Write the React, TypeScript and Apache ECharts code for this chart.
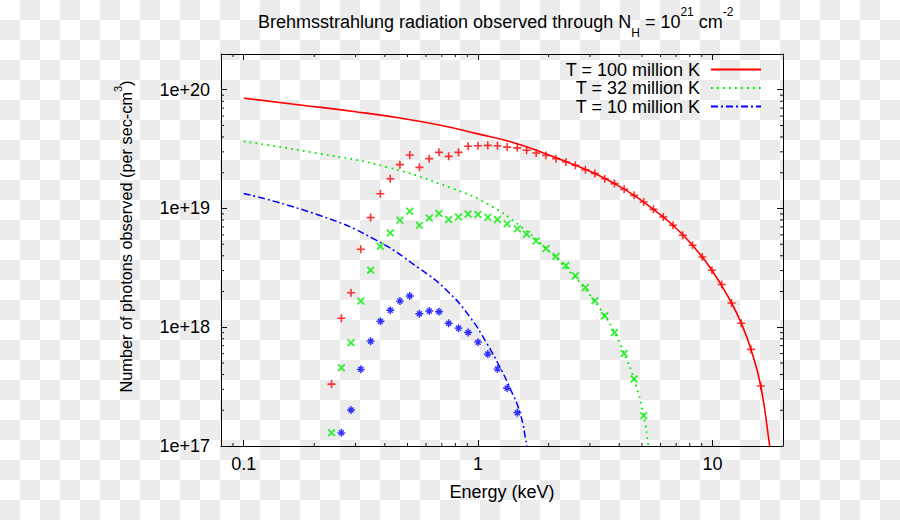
import React, { useEffect, useRef } from 'react';
import * as echarts from 'echarts';

const FONT = '"Liberation Sans", Arial, Helvetica, sans-serif';

const X_MIN = 0.08;
const X_MAX = 20;
const Y_MIN = 1e17;
const Y_MAX = 2e20;

const legendNames = ['T = 100 million K', 'T = 32 million K', 'T = 10 million K'];
const seriesColors = ['#ff0000', '#00ee00', '#0000ff'];

// Model curves (energy keV, photons)
const curve100E = [0.1, 0.174, 0.3, 0.464, 0.7, 1.0, 1.41, 1.95, 2.6, 3.15, 3.82, 4.63, 5.6, 6.79, 8.22, 9.95, 12.06, 13.27, 14.6, 16.07, 17.55, 17.9];
const curve100V = [8.49e19, 7.45e19, 6.53e19, 5.78e19, 5.0e19, 4.25e19, 3.6e19, 2.88e19, 2.31e19, 1.97e19, 1.62e19, 1.29e19, 9.84e18, 7.22e18, 4.9e18, 3.02e18, 1.6e18, 1.08e18, 6.51e17, 3.2e17, 1.0e17, 7.5e16];

const curve32E = [0.1, 0.21, 0.41, 0.78, 1.09, 1.5, 1.95, 2.37, 2.87, 3.47, 3.82, 4.2, 4.63, 5.09, 5.33, 5.4];
const curve32V = [3.67e19, 2.9e19, 2.23e19, 1.47e19, 1.1e19, 7.2e18, 4.6e18, 3.16e18, 2.09e18, 1.25e18, 9.04e17, 6.02e17, 3.66e17, 1.8e17, 1.0e17, 8e16];

const curve10E = [0.1, 0.21, 0.357, 0.565, 0.734, 0.923, 1.09, 1.24, 1.37, 1.51, 1.615, 1.65];
const curve10V = [1.34e19, 8.77e18, 5.58e18, 3.1e18, 2.05e18, 1.22e18, 7.3e17, 4.6e17, 3.05e17, 1.9e17, 1.0e17, 8e16];

// Observed channels (energy keV)
const energies = [0.237, 0.261, 0.287, 0.316, 0.348, 0.383, 0.422, 0.464, 0.511, 0.562, 0.619, 0.681, 0.749, 0.825, 0.907, 0.999, 1.10, 1.21, 1.33, 1.47, 1.61, 1.77, 1.95, 2.15, 2.37, 2.60, 2.87, 3.15, 3.47, 3.82, 4.20, 4.63, 5.09, 5.60, 6.17, 6.79, 7.47, 8.22, 9.05, 9.95, 10.95, 12.06, 13.27, 14.60, 16.07];
const counts100 = [3.32e17, 1.19e18, 1.95e18, 4.54e18, 8.38e18, 1.33e19, 1.78e19, 2.34e19, 2.82e19, 2.22e19, 2.63e19, 2.97e19, 2.75e19, 2.97e19, 3.34e19, 3.38e19, 3.40e19, 3.38e19, 3.29e19, 3.24e19, 3.09e19, 2.93e19, 2.80e19, 2.63e19, 2.46e19, 2.31e19, 2.12e19, 1.97e19, 1.78e19, 1.62e19, 1.45e19, 1.29e19, 1.135e19, 9.84e18, 8.48e18, 7.22e18, 5.95e18, 4.90e18, 3.91e18, 3.02e18, 2.29e18, 1.60e18, 1.08e18, 6.51e17, 3.20e17];
// starts at energies[0]
const counts32 = [1.29e17, 4.56e17, 7.39e17, 1.66e18, 3.02e18, 4.81e18, 6.22e18, 7.96e18, 9.47e18, 7.22e18, 8.32e18, 9.06e18, 8.07e18, 8.48e18, 8.99e18, 8.89e18, 8.43e18, 8.07e18, 7.43e18, 6.75e18, 6.07e18, 5.33e18, 4.60e18, 3.96e18, 3.31e18, 2.72e18, 2.16e18, 1.67e18, 1.25e18, 9.04e17, 6.02e17, 3.66e17, 1.80e17];
// starts at energies[1]
const counts10 = [1.29e17, 2.01e17, 4.42e17, 7.64e17, 1.125e18, 1.39e18, 1.66e18, 1.83e18, 1.30e18, 1.37e18, 1.35e18, 1.08e18, 9.83e17, 9.04e17, 7.49e17, 5.94e17, 4.44e17, 3.06e17, 1.91e17];

const xMinorTicks = [0.09, 0.2, 0.3, 0.4, 0.5, 0.6, 0.7, 0.8, 0.9, 2, 3, 4, 5, 6, 7, 8, 9];
const yMinorTicks = [2e17, 3e17, 4e17, 5e17, 6e17, 7e17, 8e17, 9e17, 2e18, 3e18, 4e18, 5e18, 6e18, 7e18, 8e18, 9e18, 2e19, 3e19, 4e19, 5e19, 6e19, 7e19, 8e19, 9e19];

const PLUS = 'path://M-0.2,-1L0.2,-1L0.2,-0.2L1,-0.2L1,0.2L0.2,0.2L0.2,1L-0.2,1L-0.2,0.2L-1,0.2L-1,-0.2L-0.2,-0.2Z';
const CROSS = 'path://M-0.55,-0.8L0.8,0.55L0.55,0.8L-0.8,-0.55ZM0.55,-0.8L0.8,-0.55L-0.55,0.8L-0.8,0.55Z';
const STAR = 'path://M-0.18,-1L0.18,-1L0.18,-0.18L1,-0.18L1,0.18L0.18,0.18L0.18,1L-0.18,1L-0.18,0.18L-1,0.18L-1,-0.18L-0.18,-0.18ZM-0.5,-0.75L0.75,0.5L0.5,0.75L-0.75,-0.5ZM0.5,-0.75L0.75,-0.5L-0.5,0.75L-0.75,0.5Z';

const zip = (xs: number[], ys: number[], offset = 0) => ys.map((y, i) => [xs[i + offset], y]);

const isPow10 = (v: number) => {
  const l = Math.log10(v);
  return Math.abs(l - Math.round(l)) < 1e-6;
};

const tickStyle = { color: '#111', width: 1 };
const MINOR = 3;

function minorTickSeries(values: number[], dim: 'x' | 'y') {
  return {
    type: 'custom',
    silent: true,
    z: 5,
    data: values.map((v) => (dim === 'x' ? [v, Y_MIN] : [X_MIN, v])),
    renderItem: (params: any, api: any) => {
      const cs = params.coordSys;
      const p = api.coord([api.value(0), api.value(1)]);
      const style = { stroke: '#111', lineWidth: 1 };
      if (dim === 'x') {
        const b = cs.y + cs.height;
        return {
          type: 'group',
          children: [
            { type: 'line', shape: { x1: p[0], y1: b, x2: p[0], y2: b - MINOR }, style },
            { type: 'line', shape: { x1: p[0], y1: cs.y, x2: p[0], y2: cs.y + MINOR }, style },
          ],
        };
      }
      const r = cs.x + cs.width;
      return {
        type: 'group',
        children: [
          { type: 'line', shape: { x1: cs.x, y1: p[1], x2: cs.x + MINOR, y2: p[1] }, style },
          { type: 'line', shape: { x1: r, y1: p[1], x2: r - MINOR, y2: p[1] }, style },
        ],
      };
    },
  };
}

const baseX = {
  type: 'log',
  logBase: 10,
  min: X_MIN,
  max: X_MAX,
  splitLine: { show: false },
  axisLine: { show: true, onZero: false, lineStyle: { color: '#000', width: 1 } },
  axisTick: { show: true, inside: true, length: 6, lineStyle: tickStyle },
};
const baseY = {
  type: 'log',
  logBase: 10,
  min: Y_MIN,
  max: Y_MAX,
  splitLine: { show: false },
  axisLine: { show: true, onZero: false, lineStyle: { color: '#000', width: 1 } },
  axisTick: { show: true, inside: true, length: 6, lineStyle: tickStyle },
};

const supStyle = { fontSize: 12, lineHeight: 12, verticalAlign: 'top', padding: [2, 0, 0, 0], fontFamily: FONT, color: '#000' };
const subStyle = { fontSize: 12, lineHeight: 12, verticalAlign: 'bottom', fontFamily: FONT, color: '#000' };
const mainStyle = { fontSize: 18, lineHeight: 35, verticalAlign: 'middle', fontFamily: FONT, color: '#000' };
const yMainStyle = { fontSize: 16.3, lineHeight: 33, verticalAlign: 'middle', fontFamily: FONT, color: '#000' };
const ySupStyle = { fontSize: 11, lineHeight: 11, verticalAlign: 'top', padding: [3, 0, 0, 0], fontFamily: FONT, color: '#000' };

const lineCommon = {
  type: 'line',
  showSymbol: false,
  symbol: 'none',
  smooth: 0.5,
  clip: true,
  z: 3,
};

const option: any = {
  animation: false,
  backgroundColor: 'transparent',
  title: {
    text: '{a|Brehmsstrahlung radiation observed through N}{sub|H}{a| = 10}{sup|21}{a| cm}{sup|-2}',
    left: 258,
    top: 4,
    padding: 0,
    textAlign: 'left',
    textVerticalAlign: 'top',
    textStyle: { fontFamily: FONT, fontWeight: 'normal', color: '#000', rich: { a: mainStyle, sup: supStyle, sub: subStyle } },
  },
  legend: legendNames.map((name, i) => ({
    data: [name],
    right: 138,
    top: [60.5, 79, 97.5][i],
    orient: 'vertical',
    align: 'right',
    itemWidth: 50,
    itemHeight: 16,
    padding: 0,
    selectedMode: false,
    itemStyle: { opacity: 0 },
    textStyle: { fontSize: 18, lineHeight: 16, fontFamily: FONT, color: '#000', padding: [0, 6, 0, 0] },
  })),
  grid: { left: 221, right: 117, top: 54, bottom: 74, containLabel: false, outerBoundsMode: 'none' },
  xAxis: [
    {
      ...baseX,
      position: 'bottom',
      name: 'Energy (keV)',
      nameLocation: 'middle',
      nameGap: 37,
      nameTextStyle: { fontSize: 18, fontFamily: FONT, color: '#000' },
      axisLabel: {
        show: true,
        margin: 9,
        fontSize: 18,
        fontFamily: FONT,
        color: '#000',
        formatter: (v: number) => (isPow10(v) ? String(Number(v.toPrecision(6))) : ''),
      },
    },
    { ...baseX, position: 'top', axisLabel: { show: false } },
  ],
  yAxis: [
    {
      ...baseY,
      position: 'left',
      name: '{a|Number of photons observed (per sec-cm}{sup|3}{a|)}',
      nameLocation: 'middle',
      nameGap: 79,
      nameTextStyle: { fontFamily: FONT, color: '#000', padding: [0, 0, 0, 27], rich: { a: yMainStyle, sup: ySupStyle } },
      axisLabel: {
        show: true,
        margin: 11,
        fontSize: 18,
        fontFamily: FONT,
        color: '#000',
        formatter: (v: number) => (isPow10(v) ? '1e+' + Math.round(Math.log10(v)) : ''),
      },
    },
    { ...baseY, position: 'right', axisLabel: { show: false } },
  ],
  series: [
    {
      ...lineCommon,
      name: legendNames[0],
      data: zip(curve100E, curve100V),
      color: seriesColors[0],
      lineStyle: { color: seriesColors[0], width: 1.6, type: 'solid' },
    },
    {
      ...lineCommon,
      name: legendNames[1],
      data: zip(curve32E, curve32V),
      color: seriesColors[1],
      lineStyle: { color: seriesColors[1], width: 1.8, type: [1.8, 4.2] },
    },
    {
      ...lineCommon,
      name: legendNames[2],
      data: zip(curve10E, curve10V),
      color: seriesColors[2],
      lineStyle: { color: seriesColors[2], width: 1.5, type: [7, 3, 2, 3] },
    },
    {
      name: 'obs100',
      type: 'scatter',
      data: zip(energies, counts100),
      symbol: PLUS,
      symbolSize: 8,
      itemStyle: { color: seriesColors[0] },
      z: 4,
    },
    {
      name: 'obs32',
      type: 'scatter',
      data: zip(energies, counts32),
      symbol: CROSS,
      symbolSize: 8,
      itemStyle: { color: seriesColors[1] },
      z: 4,
    },
    {
      name: 'obs10',
      type: 'scatter',
      data: zip(energies, counts10, 1),
      symbol: STAR,
      symbolSize: 8,
      itemStyle: { color: seriesColors[2] },
      z: 4,
    },
    minorTickSeries(xMinorTicks, 'x'),
    minorTickSeries(yMinorTicks, 'y'),
  ],
};

export default function App() {
  const ref = useRef<HTMLDivElement>(null);
  useEffect(() => {
    document.body.style.margin = '0';
    const chart = echarts.init(ref.current as HTMLDivElement, null, { renderer: 'svg', width: 900, height: 520 });
    chart.setOption(option);
    return () => chart.dispose();
  }, []);
  return (
    <div
      ref={ref}
      style={{
        width: 900,
        height: 520,
        background: 'repeating-conic-gradient(#ececec 0% 25%, #ffffff 0% 50%) 0 0 / 40px 40px',
      }}
    />
  );
}
